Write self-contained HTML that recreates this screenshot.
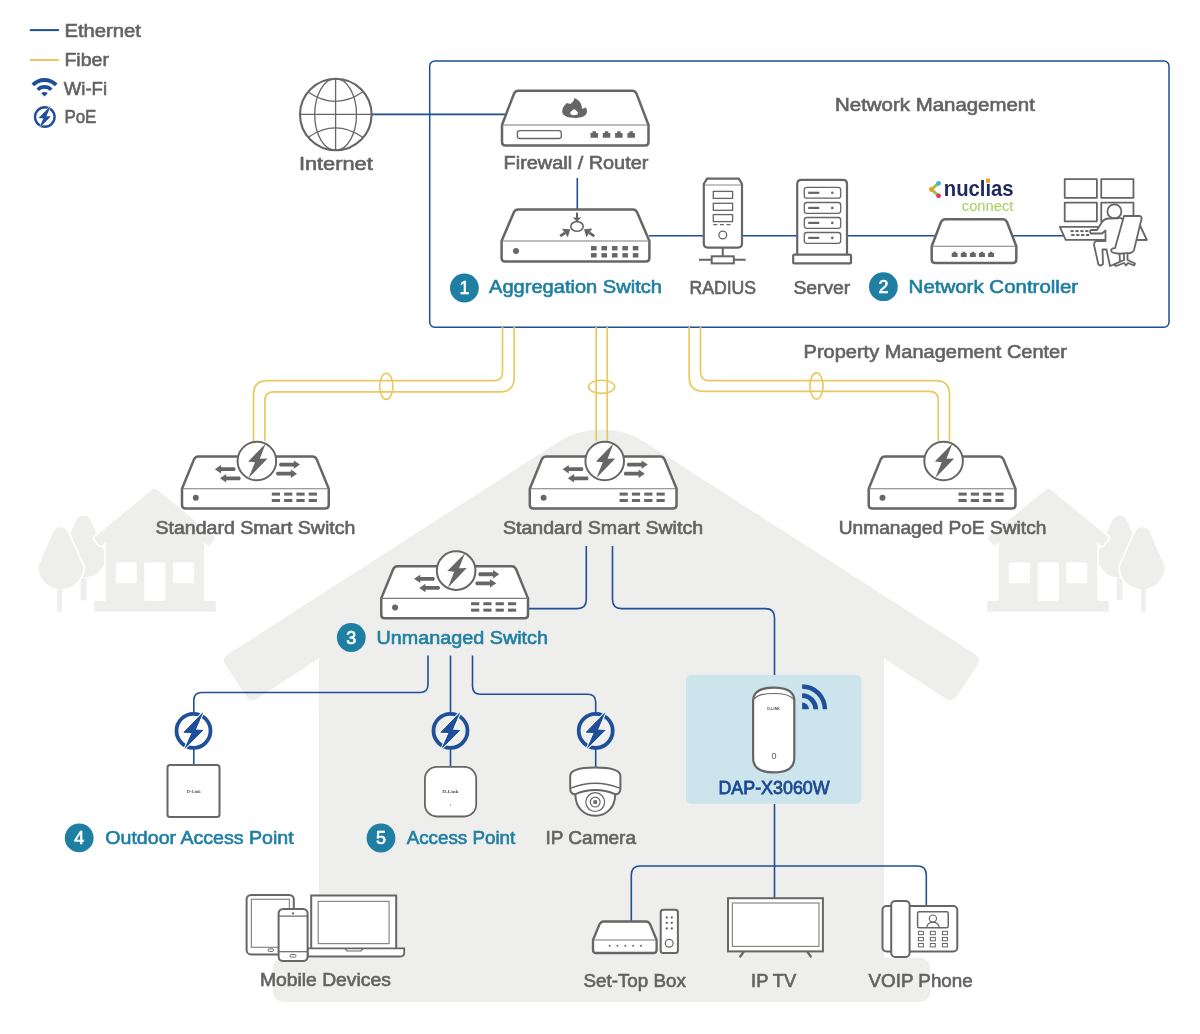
<!DOCTYPE html>
<html><head><meta charset="utf-8"><title>Network Diagram</title>
<style>html,body{margin:0;padding:0;background:#fff;width:1200px;height:1034px;overflow:hidden}
svg{display:block;font-family:"Liberation Sans",sans-serif;will-change:transform}</style></head>
<body><svg width="1200" height="1034" viewBox="0 0 1200 1034">
<path d="M225.65,665.35 Q221.20,658.70 227.93,654.37 L557.51,442.39 A81,81 0 0 1 645.49,442.39 L975.07,654.37 Q981.80,658.70 977.35,665.35 L956.65,696.25 Q952.20,702.90 945.50,698.52 L884.01,658.31 Q884.00,658.30 884.00,658.31 L884.00,959.99 Q884.00,960.00 883.99,960.00 L319.01,960.00 Q319.00,960.00 319.00,959.99 L319.00,658.31 Q319.00,658.30 318.99,658.31 L257.50,698.52 Q250.80,702.90 246.35,696.25 Z" fill="#eeeeec"/>
<rect x="273" y="957.7" width="657.2" height="44.2" rx="10" fill="#eeeeec"/>
<g>
<g transform="translate(22.8,-11.7)"><path d="M53.2,532 A8,8 0 0 1 67.8,532 L83.3,566.7 A22.5,22.5 0 0 1 38.3,566.7 Z" fill="#eeeeec"/><rect x="57.8" y="590" width="5.8" height="22" fill="#eeeeec"/></g>
<path d="M53.2,532 A8,8 0 0 1 67.8,532 L83.3,566.7 A22.5,22.5 0 0 1 38.3,566.7 Z" fill="#eeeeec" stroke="#fff" stroke-width="3.5" paint-order="stroke"/>
<rect x="57.2" y="588" width="4.8" height="23.7" fill="#eeeeec"/>
<path d="M95.16,539.75 Q93.60,537.80 95.53,536.21 L151.61,490.14 Q154.70,487.60 157.79,490.14 L213.87,536.21 Q215.80,537.80 214.24,539.75 L210.15,544.84 Q208.90,546.40 207.34,545.14 L204.21,542.61 Q204.20,542.60 204.20,542.61 L204.20,600.99 Q204.20,601.00 204.19,601.00 L105.81,601.00 Q105.80,601.00 105.80,600.99 L105.80,542.61 Q105.80,542.60 105.79,542.61 L102.13,545.23 Q100.50,546.40 99.25,544.84 Z" fill="#eeeeec" stroke="#fff" stroke-width="3.5" paint-order="stroke" stroke-linejoin="round"/>
<rect x="94.2" y="600.8" width="121.6" height="10.9" rx="1.5" fill="#eeeeec"/>
<rect x="115.8" y="562.5" width="20.9" height="20.8" rx="1.2" fill="#fff"/>
<rect x="144.2" y="562.5" width="21.1" height="38.3" rx="1.2" fill="#fff"/>
<rect x="173" y="562.5" width="21.2" height="20.8" rx="1.2" fill="#fff"/>
</g>
<g transform="translate(1203,0) scale(-1,1)">
<g transform="translate(22.8,-11.7)"><path d="M53.2,532 A8,8 0 0 1 67.8,532 L83.3,566.7 A22.5,22.5 0 0 1 38.3,566.7 Z" fill="#eeeeec"/><rect x="57.8" y="590" width="5.8" height="22" fill="#eeeeec"/></g>
<path d="M53.2,532 A8,8 0 0 1 67.8,532 L83.3,566.7 A22.5,22.5 0 0 1 38.3,566.7 Z" fill="#eeeeec" stroke="#fff" stroke-width="3.5" paint-order="stroke"/>
<rect x="57.2" y="588" width="4.8" height="23.7" fill="#eeeeec"/>
<path d="M95.16,539.75 Q93.60,537.80 95.53,536.21 L151.61,490.14 Q154.70,487.60 157.79,490.14 L213.87,536.21 Q215.80,537.80 214.24,539.75 L210.15,544.84 Q208.90,546.40 207.34,545.14 L204.21,542.61 Q204.20,542.60 204.20,542.61 L204.20,600.99 Q204.20,601.00 204.19,601.00 L105.81,601.00 Q105.80,601.00 105.80,600.99 L105.80,542.61 Q105.80,542.60 105.79,542.61 L102.13,545.23 Q100.50,546.40 99.25,544.84 Z" fill="#eeeeec" stroke="#fff" stroke-width="3.5" paint-order="stroke" stroke-linejoin="round"/>
<rect x="94.2" y="600.8" width="121.6" height="10.9" rx="1.5" fill="#eeeeec"/>
<rect x="115.8" y="562.5" width="20.9" height="20.8" rx="1.2" fill="#fff"/>
<rect x="144.2" y="562.5" width="21.1" height="38.3" rx="1.2" fill="#fff"/>
<rect x="173" y="562.5" width="21.2" height="20.8" rx="1.2" fill="#fff"/>
</g>
<rect x="686" y="675" width="175.3" height="128.8" rx="5" fill="#cce4ec"/>
<line x1="29.8" y1="30.1" x2="59" y2="30.1" stroke="#1f4f94" stroke-width="2"/>
<line x1="29.8" y1="60" x2="59" y2="60" stroke="#e9c85e" stroke-width="2"/>
<text x="64.4" y="37.0" font-size="18" font-weight="400" fill="#636363" stroke="#636363" stroke-width="0.6" textLength="76.5" lengthAdjust="spacingAndGlyphs" >Ethernet</text>
<text x="64.4" y="66.0" font-size="18" font-weight="400" fill="#636363" stroke="#636363" stroke-width="0.6" textLength="44.5" lengthAdjust="spacingAndGlyphs" >Fiber</text>
<text x="63.8" y="95.0" font-size="18" font-weight="400" fill="#636363" stroke="#636363" stroke-width="0.6" textLength="43.3" lengthAdjust="spacingAndGlyphs" >Wi-Fi</text>
<text x="64.4" y="122.6" font-size="18" font-weight="400" fill="#636363" stroke="#636363" stroke-width="0.6" textLength="32.0" lengthAdjust="spacingAndGlyphs" >PoE</text>
<g transform="translate(44.5,96.5) rotate(0)" fill="#1e4f98">
<path d="M0,0 L-3.25,-3.25 A4.6,4.6 0 0 1 3.25,-3.25 Z"/>
<path d="M-8.06,-8.06 A11.4,11.4 0 0 1 8.06,-8.06 L5.52,-5.52 A7.8,7.8 0 0 0 -5.52,-5.52 Z"/>
<path d="M-13.01,-13.01 A18.4,18.4 0 0 1 13.01,-13.01 L10.32,-10.32 A14.6,14.6 0 0 0 -10.32,-10.32 Z"/>
</g>
<circle cx="44.8" cy="117" r="9.80" fill="none" stroke="#1e4f98" stroke-width="2.40"/>
<path d="M50.43,106.17 L38.92,117.99 L43.69,118.28 L39.62,127.42 L50.56,116.59 L46.08,116.44 Z" fill="#1e4f98" stroke="#fff" stroke-width="1.28" paint-order="stroke" stroke-linejoin="miter"/>
<path d="M50.43,106.17 L38.92,117.99 L43.69,118.28 L39.62,127.42 L50.56,116.59 L46.08,116.44 Z" fill="#1e4f98"/>
<rect x="429.7" y="61" width="739.3" height="266.3" rx="5" fill="none" stroke="#1f4f94" stroke-width="1.5"/>
<text x="835.1" y="110.8" font-size="17.5" font-weight="400" fill="#636363" stroke="#636363" stroke-width="0.6" textLength="199.8" lengthAdjust="spacingAndGlyphs" >Network Management</text>
<text x="803.6" y="357.5" font-size="17.5" font-weight="400" fill="#636363" stroke="#636363" stroke-width="0.6" textLength="263.3" lengthAdjust="spacingAndGlyphs" >Property Management Center</text>
<g fill="none" stroke="#1f4f94" stroke-width="1.6">
<line x1="372" y1="114.4" x2="505" y2="114.4"/>
<line x1="577.3" y1="178" x2="577.3" y2="210"/>
<line x1="649" y1="235.7" x2="1063" y2="235.7"/>
</g>
<g>
<path d="M253.5,441 L253.50,394.60 Q253.5,380.6 267.50,380.60 L494.50,380.60 Q502.5,380.6 502.50,372.60 L502.5,327" fill="none" stroke="#e9c85e" stroke-width="1.7"/>
<path d="M264.9,441 L264.90,400.80 Q264.9,391.8 273.90,391.80 L500.20,391.80 Q514.2,391.8 514.20,377.80 L514.2,327" fill="none" stroke="#e9c85e" stroke-width="1.7"/>
<ellipse cx="386.3" cy="386.3" rx="6.6" ry="13.1" fill="none" stroke="#e9c85e" stroke-width="1.6"/>
<line x1="596.2" y1="327" x2="596.2" y2="441" stroke="#e9c85e" stroke-width="1.7"/>
<line x1="607.2" y1="327" x2="607.2" y2="441" stroke="#e9c85e" stroke-width="1.7"/>
<ellipse cx="601.6" cy="386.8" rx="13.1" ry="6.6" fill="none" stroke="#e9c85e" stroke-width="1.6"/>
<path d="M689.2,327 L689.20,377.30 Q689.2,391.3 703.20,391.30 L929.30,391.30 Q938.3,391.3 938.30,400.30 L938.3,441" fill="none" stroke="#e9c85e" stroke-width="1.7"/>
<path d="M700.5,327 L700.50,371.70 Q700.5,380.7 709.50,380.70 L935.50,380.70 Q949.5,380.7 949.50,394.70 L949.5,441" fill="none" stroke="#e9c85e" stroke-width="1.7"/>
<ellipse cx="816.5" cy="386" rx="6.6" ry="13.1" fill="none" stroke="#e9c85e" stroke-width="1.6"/>
</g>
<path d="M586.3,546 L586.30,599.60 Q586.3,608.6 577.30,608.60 L528,608.6" fill="none" stroke="#1f4f94" stroke-width="1.6"/>
<path d="M612.5,546 L612.50,599.60 Q612.5,608.6 621.50,608.60 L765.50,608.60 Q774.5,608.6 774.50,617.60 L774.5,675" fill="none" stroke="#1f4f94" stroke-width="1.6"/>
<path d="M774.5,804 L774.5,898" fill="none" stroke="#1f4f94" stroke-width="1.6"/>
<path d="M631.3,921 L631.30,875.00 Q631.3,866 640.30,866.00 L917.30,866.00 Q926.3,866 926.30,875.00 L926.3,905" fill="none" stroke="#1f4f94" stroke-width="1.6"/>
<path d="M428,655.5 L428.00,684.50 Q428,692.5 420.00,692.50 L201.80,692.50 Q193.8,692.5 193.80,700.50 L193.8,712" fill="none" stroke="#1f4f94" stroke-width="1.6"/>
<path d="M450.5,655.5 L450.5,712" fill="none" stroke="#1f4f94" stroke-width="1.6"/>
<path d="M472.5,655.5 L472.50,686.30 Q472.5,694.3 480.50,694.30 L587.70,694.30 Q595.7,694.3 595.70,702.30 L595.7,712" fill="none" stroke="#1f4f94" stroke-width="1.6"/>
<path d="M193.8,749 L193.8,765" fill="none" stroke="#1f4f94" stroke-width="1.6"/>
<path d="M450.5,749 L450.5,766" fill="none" stroke="#1f4f94" stroke-width="1.6"/>
<path d="M595.7,749 L595.7,768" fill="none" stroke="#1f4f94" stroke-width="1.6"/>
<path d="M182,488.7 L194.00,459.40 Q195.60,456.6 198.20,456.6 L312.55,456.6 Q315.15,456.6 316.75,459.40 L328.75,488.7 L328.75,505.0 Q328.75,508.5 325.25,508.5 L185.5,508.5 Q182,508.5 182,505.0 Z" fill="#fff" stroke="#666666" stroke-width="2.5" stroke-linejoin="round"/>
<line x1="182" y1="488.7" x2="328.75" y2="488.7" stroke="#7d7b7b" stroke-width="1.1"/>
<circle cx="195.80" cy="497.80" r="3" fill="#666666"/>
<rect x="271.80" y="492.60" width="8.2" height="3" fill="#666666"/>
<rect x="271.80" y="499.00" width="8.2" height="3" fill="#666666"/>
<rect x="284.10" y="492.60" width="8.2" height="3" fill="#666666"/>
<rect x="284.10" y="499.00" width="8.2" height="3" fill="#666666"/>
<rect x="296.40" y="492.60" width="8.2" height="3" fill="#666666"/>
<rect x="296.40" y="499.00" width="8.2" height="3" fill="#666666"/>
<rect x="308.70" y="492.60" width="8.2" height="3" fill="#666666"/>
<rect x="308.70" y="499.00" width="8.2" height="3" fill="#666666"/>
<path d="M214.8,469.2 L221.0,465.0 L221.0,467.3 L234.6,467.3 Q236.5,469.2 234.6,471.09999999999997 L221.0,471.09999999999997 L221.0,473.4 Z" fill="#666666"/>
<path d="M220,478.3 L226.2,474.1 L226.2,476.40000000000003 L239.8,476.40000000000003 Q241.70000000000002,478.3 239.8,480.2 L226.2,480.2 L226.2,482.5 Z" fill="#666666"/>
<path d="M300,464.6 L293.8,460.40000000000003 L293.8,462.70000000000005 L280,462.70000000000005 Q278.1,464.6 280,466.5 L293.8,466.5 L293.8,468.8 Z" fill="#666666"/>
<path d="M297,473.7 L290.8,469.5 L290.8,471.8 L277,471.8 Q275.1,473.7 277,475.59999999999997 L290.8,475.59999999999997 L290.8,477.9 Z" fill="#666666"/>
<circle cx="256.9" cy="461.0" r="19.3" fill="#fff" stroke="#666666" stroke-width="2"/>
<path d="M265.70,443.60 L248.10,461.40 L255.00,462.20 L248.60,478.10 L267.50,458.45 L259.80,458.70 Z" fill="#666666"/>
<path d="M529.8,488.7 L541.80,459.40 Q543.40,456.6 546.00,456.6 L660.35,456.6 Q662.95,456.6 664.55,459.40 L676.55,488.7 L676.55,505.0 Q676.55,508.5 673.05,508.5 L533.3,508.5 Q529.8,508.5 529.8,505.0 Z" fill="#fff" stroke="#666666" stroke-width="2.5" stroke-linejoin="round"/>
<line x1="529.8" y1="488.7" x2="676.55" y2="488.7" stroke="#7d7b7b" stroke-width="1.1"/>
<circle cx="543.60" cy="497.80" r="3" fill="#666666"/>
<rect x="619.60" y="492.60" width="8.2" height="3" fill="#666666"/>
<rect x="619.60" y="499.00" width="8.2" height="3" fill="#666666"/>
<rect x="631.90" y="492.60" width="8.2" height="3" fill="#666666"/>
<rect x="631.90" y="499.00" width="8.2" height="3" fill="#666666"/>
<rect x="644.20" y="492.60" width="8.2" height="3" fill="#666666"/>
<rect x="644.20" y="499.00" width="8.2" height="3" fill="#666666"/>
<rect x="656.50" y="492.60" width="8.2" height="3" fill="#666666"/>
<rect x="656.50" y="499.00" width="8.2" height="3" fill="#666666"/>
<path d="M562.5999999999999,469.2 L568.8,465.0 L568.8,467.3 L582.4,467.3 Q584.3,469.2 582.4,471.09999999999997 L568.8,471.09999999999997 L568.8,473.4 Z" fill="#666666"/>
<path d="M567.8,478.3 L574.0,474.1 L574.0,476.40000000000003 L587.5999999999999,476.40000000000003 Q589.4999999999999,478.3 587.5999999999999,480.2 L574.0,480.2 L574.0,482.5 Z" fill="#666666"/>
<path d="M647.8,464.6 L641.5999999999999,460.40000000000003 L641.5999999999999,462.70000000000005 L627.8,462.70000000000005 Q625.9,464.6 627.8,466.5 L641.5999999999999,466.5 L641.5999999999999,468.8 Z" fill="#666666"/>
<path d="M644.8,473.7 L638.5999999999999,469.5 L638.5999999999999,471.8 L624.8,471.8 Q622.9,473.7 624.8,475.59999999999997 L638.5999999999999,475.59999999999997 L638.5999999999999,477.9 Z" fill="#666666"/>
<circle cx="604.6999999999999" cy="461.0" r="19.3" fill="#fff" stroke="#666666" stroke-width="2"/>
<path d="M613.50,443.60 L595.90,461.40 L602.80,462.20 L596.40,478.10 L615.30,458.45 L607.60,458.70 Z" fill="#666666"/>
<path d="M868.7,488.7 L880.70,459.40 Q882.30,456.6 884.90,456.6 L999.25,456.6 Q1001.85,456.6 1003.45,459.40 L1015.45,488.7 L1015.45,505.0 Q1015.45,508.5 1011.95,508.5 L872.2,508.5 Q868.7,508.5 868.7,505.0 Z" fill="#fff" stroke="#666666" stroke-width="2.5" stroke-linejoin="round"/>
<line x1="868.7" y1="488.7" x2="1015.45" y2="488.7" stroke="#7d7b7b" stroke-width="1.1"/>
<circle cx="882.50" cy="497.80" r="3" fill="#666666"/>
<rect x="958.50" y="492.60" width="8.2" height="3" fill="#666666"/>
<rect x="958.50" y="499.00" width="8.2" height="3" fill="#666666"/>
<rect x="970.80" y="492.60" width="8.2" height="3" fill="#666666"/>
<rect x="970.80" y="499.00" width="8.2" height="3" fill="#666666"/>
<rect x="983.10" y="492.60" width="8.2" height="3" fill="#666666"/>
<rect x="983.10" y="499.00" width="8.2" height="3" fill="#666666"/>
<rect x="995.40" y="492.60" width="8.2" height="3" fill="#666666"/>
<rect x="995.40" y="499.00" width="8.2" height="3" fill="#666666"/>
<circle cx="943.6" cy="461.0" r="19.3" fill="#fff" stroke="#666666" stroke-width="2"/>
<path d="M952.40,443.60 L934.80,461.40 L941.70,462.20 L935.30,478.10 L954.20,458.45 L946.50,458.70 Z" fill="#666666"/>
<path d="M381.25,598.3499999999999 L393.25,569.05 Q394.85,566.25 397.45,566.25 L511.80,566.25 Q514.40,566.25 516.00,569.05 L528.0,598.3499999999999 L528.0,614.65 Q528.0,618.15 524.5,618.15 L384.75,618.15 Q381.25,618.15 381.25,614.65 Z" fill="#fff" stroke="#666666" stroke-width="2.5" stroke-linejoin="round"/>
<line x1="381.25" y1="598.3499999999999" x2="528.0" y2="598.3499999999999" stroke="#7d7b7b" stroke-width="1.1"/>
<circle cx="395.05" cy="607.45" r="3" fill="#666666"/>
<rect x="471.05" y="602.25" width="8.2" height="3" fill="#666666"/>
<rect x="471.05" y="608.65" width="8.2" height="3" fill="#666666"/>
<rect x="483.35" y="602.25" width="8.2" height="3" fill="#666666"/>
<rect x="483.35" y="608.65" width="8.2" height="3" fill="#666666"/>
<rect x="495.65" y="602.25" width="8.2" height="3" fill="#666666"/>
<rect x="495.65" y="608.65" width="8.2" height="3" fill="#666666"/>
<rect x="507.95" y="602.25" width="8.2" height="3" fill="#666666"/>
<rect x="507.95" y="608.65" width="8.2" height="3" fill="#666666"/>
<path d="M414.05,578.8499999999999 L420.25,574.6499999999999 L420.25,576.9499999999999 L433.85,576.9499999999999 Q435.75,578.8499999999999 433.85,580.7499999999999 L420.25,580.7499999999999 L420.25,583.05 Z" fill="#666666"/>
<path d="M419.25,587.95 L425.45,583.75 L425.45,586.0500000000001 L439.05,586.0500000000001 Q440.95,587.95 439.05,589.85 L425.45,589.85 L425.45,592.1500000000001 Z" fill="#666666"/>
<path d="M499.25,574.25 L493.05,570.05 L493.05,572.35 L479.25,572.35 Q477.35,574.25 479.25,576.15 L493.05,576.15 L493.05,578.45 Z" fill="#666666"/>
<path d="M496.25,583.3499999999999 L490.05,579.1499999999999 L490.05,581.4499999999999 L476.25,581.4499999999999 Q474.35,583.3499999999999 476.25,585.2499999999999 L490.05,585.2499999999999 L490.05,587.55 Z" fill="#666666"/>
<circle cx="456.15" cy="570.65" r="19.3" fill="#fff" stroke="#666666" stroke-width="2"/>
<path d="M464.95,553.25 L447.35,571.05 L454.25,571.85 L447.85,587.75 L466.75,568.10 L459.05,568.35 Z" fill="#666666"/>
<text x="155.5" y="533.6" font-size="17.5" font-weight="400" fill="#636363" stroke="#636363" stroke-width="0.6" textLength="199.8" lengthAdjust="spacingAndGlyphs" >Standard Smart Switch</text>
<text x="502.9" y="533.6" font-size="17.5" font-weight="400" fill="#636363" stroke="#636363" stroke-width="0.6" textLength="200.2" lengthAdjust="spacingAndGlyphs" >Standard Smart Switch</text>
<text x="838.7" y="533.6" font-size="17.5" font-weight="400" fill="#636363" stroke="#636363" stroke-width="0.6" textLength="207.7" lengthAdjust="spacingAndGlyphs" >Unmanaged PoE Switch</text>
<circle cx="351.25" cy="637.5" r="14.4" fill="#1f7fa2"/>
<text x="351.25" y="643.7" font-size="18" font-weight="400" fill="#fff" stroke="#fff" stroke-width="0.6" text-anchor="middle">3</text>
<text x="376.6" y="643.8" font-size="17.5" font-weight="400" fill="#1f7fa2" stroke="#1f7fa2" stroke-width="0.6" textLength="171.3" lengthAdjust="spacingAndGlyphs" >Unmanaged Switch</text>
<g fill="none" stroke="#666666">
<circle cx="335.8" cy="114.5" r="35.8" stroke-width="2.1"/>
<ellipse cx="335.6" cy="114.5" rx="20.9" ry="35.8" stroke-width="1.3"/>
<line x1="335.6" y1="78.7" x2="335.6" y2="150.3" stroke-width="1.3"/>
<line x1="300" y1="114.4" x2="371.6" y2="114.4" stroke-width="1.3"/>
<path d="M308.5,92.2 Q335.6,110.5 362.6,92" stroke-width="1.3"/>
<path d="M308.7,137 Q335.6,118.5 362.6,137.3" stroke-width="1.3"/>
</g>
<text x="298.9" y="170.0" font-size="17.5" font-weight="400" fill="#636363" stroke="#636363" stroke-width="0.6" textLength="73.9" lengthAdjust="spacingAndGlyphs" >Internet</text>
<path d="M502,125 L514.00,93.60 Q515.60,90.8 518.20,90.8 L632.30,90.8 Q634.90,90.8 636.50,93.60 L648.5,125 L648.5,142.0 Q648.5,145.5 645.0,145.5 L505.5,145.5 Q502,145.5 502,142.0 Z" fill="#fff" stroke="#666666" stroke-width="2.5" stroke-linejoin="round"/>
<line x1="502" y1="125" x2="648.5" y2="125" stroke="#7d7b7b" stroke-width="1.1"/>
<rect x="517.4" y="130.7" width="43.9" height="7.8" rx="2.5" fill="none" stroke="#666666" stroke-width="1.3"/>
<path d="M590.5,137.8 L590.5,133 L592.5,133 L592.5,131.2 L596.0,131.2 L596.0,133 L598.0,133 L598.0,137.8 Z" fill="#666666"/>
<path d="M602.8,137.8 L602.8,133 L604.8,133 L604.8,131.2 L608.3,131.2 L608.3,133 L610.3,133 L610.3,137.8 Z" fill="#666666"/>
<path d="M615.1,137.8 L615.1,133 L617.1,133 L617.1,131.2 L620.6,131.2 L620.6,133 L622.6,133 L622.6,137.8 Z" fill="#666666"/>
<path d="M627.4,137.8 L627.4,133 L629.4,133 L629.4,131.2 L632.9,131.2 L632.9,133 L634.9,133 L634.9,137.8 Z" fill="#666666"/>
<path d="M574.5,98 C578,99.5 582,102.5 582,108.8 C583.5,108.5 585,107.8 585.8,107.2 C587.5,109.5 587.5,113 585.5,115 C583,117.5 578,118 574.7,117.9 C570,117.8 565,117 563,114 C561.5,111.5 562,107.5 566.7,103 C568,103.2 569.5,103.7 570.3,104 C572.5,102.5 574,100.5 574.5,98 Z" fill="#666666"/>
<path d="M574.3,109 C575.5,110.3 578,111.5 578,113.3 C578,115 575.5,115.2 574,115.2 C572,115.2 570.2,114.5 570.2,113 C570.2,111.5 572.5,110.3 574.3,109 Z" fill="#fff"/>
<text x="503.6" y="169.2" font-size="17.5" font-weight="400" fill="#636363" stroke="#636363" stroke-width="0.6" textLength="144.8" lengthAdjust="spacingAndGlyphs" >Firewall / Router</text>
<path d="M501.6,241 L513.80,212.40 Q515.40,209.6 518.00,209.6 L633.00,209.6 Q635.60,209.6 637.20,212.40 L649.4,241 L649.4,258.1 Q649.4,261.6 645.9,261.6 L505.1,261.6 Q501.6,261.6 501.6,258.1 Z" fill="#fff" stroke="#666666" stroke-width="2.5" stroke-linejoin="round"/>
<line x1="501.6" y1="241" x2="649.4" y2="241" stroke="#7d7b7b" stroke-width="1.1"/>
<circle cx="516" cy="251" r="3" fill="#666666"/>
<rect x="591.00" y="246.00" width="5.6" height="4.4" fill="#666666"/>
<rect x="591.00" y="253.10" width="5.6" height="4.4" fill="#666666"/>
<rect x="601.45" y="246.00" width="5.6" height="4.4" fill="#666666"/>
<rect x="601.45" y="253.10" width="5.6" height="4.4" fill="#666666"/>
<rect x="611.90" y="246.00" width="5.6" height="4.4" fill="#666666"/>
<rect x="611.90" y="253.10" width="5.6" height="4.4" fill="#666666"/>
<rect x="622.35" y="246.00" width="5.6" height="4.4" fill="#666666"/>
<rect x="622.35" y="253.10" width="5.6" height="4.4" fill="#666666"/>
<rect x="632.80" y="246.00" width="5.6" height="4.4" fill="#666666"/>
<rect x="632.80" y="253.10" width="5.6" height="4.4" fill="#666666"/>
<ellipse cx="577" cy="226.4" rx="6.2" ry="4.8" fill="#fff" stroke="#666666" stroke-width="1.6"/>
<path d="M577,212.5 L577,218" stroke="#666666" stroke-width="2"/><path d="M573,217.5 L581,217.5 L577,222 Z" fill="#666666"/>
<line x1="560.2" y1="236.2" x2="564.87" y2="232.93" stroke="#666666" stroke-width="2.8"/>
<path d="M570.2,229.2 L567.86,237.19 L561.89,228.67 Z" fill="#666666"/>
<line x1="594.3" y1="236.2" x2="589.38" y2="232.85" stroke="#666666" stroke-width="2.8"/>
<path d="M584,229.2 L592.30,228.55 L586.45,237.15 Z" fill="#666666"/>
<text x="489.1" y="293.0" font-size="17.5" font-weight="400" fill="#1f7fa2" stroke="#1f7fa2" stroke-width="0.6" textLength="172.8" lengthAdjust="spacingAndGlyphs" >Aggregation Switch</text>
<circle cx="464.4" cy="288" r="14.4" fill="#1f7fa2"/>
<text x="464.4" y="294.2" font-size="18" font-weight="400" fill="#fff" stroke="#fff" stroke-width="0.6" text-anchor="middle">1</text>
<g fill="none" stroke="#666666">
<path d="M703.8,243.6 L703.8,184 L707,178.7 L738.8,178.7 L742,184 L742,243.6 Q742,247.6 738,247.6 L707.8,247.6 Q703.8,247.6 703.8,243.6 Z" fill="#fff" stroke-width="2.2"/>
<line x1="704.5" y1="185" x2="741.2" y2="185" stroke-width="1.2" stroke="#8a8888"/>
<rect x="713.3" y="191.4" width="19.3" height="7" stroke-width="1.3"/>
<rect x="713.3" y="203.3" width="19.3" height="7" stroke-width="1.3"/>
<rect x="713.3" y="214.6" width="19.3" height="7" stroke-width="1.3"/>
<line x1="713.3" y1="224.6" x2="732.6" y2="224.6" stroke-width="1.3" stroke-dasharray="4 2.6"/>
<circle cx="722.8" cy="235" r="3.9" stroke-width="1.3"/>
<line x1="722.8" y1="247.6" x2="722.8" y2="256.3" stroke-width="2"/>
<line x1="699" y1="259.8" x2="745.7" y2="259.8" stroke-width="2"/>
<rect x="711.7" y="256.3" width="22.1" height="7.1" fill="#fff" stroke-width="2"/>
</g>
<text x="689.4" y="293.5" font-size="17.5" font-weight="400" fill="#636363" stroke="#636363" stroke-width="0.6" textLength="66.7" lengthAdjust="spacingAndGlyphs" >RADIUS</text>
<g fill="none" stroke="#666666">
<path d="M797.2,256 L797.2,184 Q797.2,179.8 801.4,179.8 L842.8,179.8 Q847,179.8 847,184 L847,256" fill="#fff" stroke-width="2.2"/>
<rect x="793.2" y="254.7" width="57.8" height="8.7" rx="1" fill="#fff" stroke-width="2.2"/>
<rect x="804.3" y="187.4" width="36.4" height="10.8" rx="2.5" stroke-width="1.3"/>
<line x1="808.2" y1="192.8" x2="819.3" y2="192.8" stroke-width="2.2"/>
<circle cx="832.3" cy="192.8" r="1.3" fill="#666666" stroke="none"/>
<rect x="804.3" y="202.5" width="36.4" height="10.8" rx="2.5" stroke-width="1.3"/>
<line x1="808.2" y1="207.9" x2="819.3" y2="207.9" stroke-width="2.2"/>
<circle cx="832.3" cy="207.9" r="1.3" fill="#666666" stroke="none"/>
<rect x="804.3" y="217.5" width="36.4" height="10.8" rx="2.5" stroke-width="1.3"/>
<line x1="808.2" y1="222.9" x2="819.3" y2="222.9" stroke-width="2.2"/>
<circle cx="832.3" cy="222.9" r="1.3" fill="#666666" stroke="none"/>
<rect x="804.3" y="232.5" width="36.4" height="10.8" rx="2.5" stroke-width="1.3"/>
<line x1="808.2" y1="237.9" x2="819.3" y2="237.9" stroke-width="2.2"/>
<circle cx="832.3" cy="237.9" r="1.3" fill="#666666" stroke="none"/>
</g>
<text x="793.4" y="293.5" font-size="17.5" font-weight="400" fill="#636363" stroke="#636363" stroke-width="0.6" textLength="56.9" lengthAdjust="spacingAndGlyphs" >Server</text>
<path d="M931.7,246.3 L941.00,222.00 Q942.60,219.2 945.20,219.2 L1002.80,219.2 Q1005.40,219.2 1007.00,222.00 L1016.3,246.3 L1016.3,259.5 Q1016.3,263 1012.8,263 L935.2,263 Q931.7,263 931.7,259.5 Z" fill="#fff" stroke="#666666" stroke-width="2.5" stroke-linejoin="round"/>
<line x1="931.7" y1="246.3" x2="1016.3" y2="246.3" stroke="#7d7b7b" stroke-width="1.1"/>
<path d="M951.7,257 L951.7,253 L953.3000000000001,253 L953.3000000000001,251.7 L956.0,251.7 L956.0,253 L957.6,253 L957.6,257 Z" fill="#666666"/>
<path d="M960.8000000000001,257 L960.8000000000001,253 L962.4000000000001,253 L962.4000000000001,251.7 L965.1,251.7 L965.1,253 L966.7,253 L966.7,257 Z" fill="#666666"/>
<path d="M969.9000000000001,257 L969.9000000000001,253 L971.5000000000001,253 L971.5000000000001,251.7 L974.2,251.7 L974.2,253 L975.8000000000001,253 L975.8000000000001,257 Z" fill="#666666"/>
<path d="M979.0,257 L979.0,253 L980.6,253 L980.6,251.7 L983.3,251.7 L983.3,253 L984.9,253 L984.9,257 Z" fill="#666666"/>
<path d="M988.1,257 L988.1,253 L989.7,253 L989.7,251.7 L992.4,251.7 L992.4,253 L994.0,253 L994.0,257 Z" fill="#666666"/>
<circle cx="883.4" cy="286.7" r="14.4" fill="#1f7fa2"/>
<text x="883.4" y="292.9" font-size="18" font-weight="400" fill="#fff" stroke="#fff" stroke-width="0.6" text-anchor="middle">2</text>
<text x="908.6" y="293.4" font-size="17.5" font-weight="400" fill="#1f7fa2" stroke="#1f7fa2" stroke-width="0.6" textLength="169.5" lengthAdjust="spacingAndGlyphs" >Network Controller</text>
<text x="943.8" y="196.3" font-size="22.5" font-weight="700" fill="#1c2a5e" textLength="69.8" lengthAdjust="spacingAndGlyphs">nuclias</text>
<rect x="986" y="178.6" width="4" height="4" fill="#f39c32"/>
<text x="961.8" y="210.9" font-size="14.5" font-weight="400" fill="#a6cf5a" textLength="51.6" lengthAdjust="spacingAndGlyphs">connect</text>
<path d="M938.2,183.5 L931.5,189.5 L938.2,195.5" fill="none" stroke="#8cc63f" stroke-width="3" stroke-linecap="round" stroke-linejoin="round"/>
<circle cx="938.6" cy="183.3" r="2.4" fill="#3ab4e0"/>
<circle cx="931.3" cy="189.5" r="2.4" fill="#f39c32"/>
<circle cx="938.6" cy="195.8" r="2.4" fill="#e1326a"/>
<g fill="#fff" stroke="#666666" stroke-width="1.8" stroke-linejoin="round">
<rect x="1064.7" y="179.1" width="32.2" height="18.7"/>
<rect x="1101.25" y="179.1" width="32.2" height="18.7"/>
<rect x="1064.7" y="202.7" width="32.2" height="18.7"/>
<rect x="1101.25" y="202.7" width="32.2" height="18.7"/>
<path d="M1059.8,226.8 L1123,226.8 L1146.7,239.8 L1065.7,239.8 Z"/>
<path d="M1140.3,226 L1146.75,239.8 L1128,239.8 Z"/>
<circle cx="1114.4" cy="211.4" r="7"/>
<path d="M1108,218.5 Q1104,219 1102,222 L1097,230 L1091,230 Q1089,231.5 1091,233.5 L1102,233.5 L1105.5,230.5 L1105.5,241 L1096,241 Q1094,242 1094,245 L1098.3,264 Q1100,267 1103,264 L1102.5,249.5 L1106.5,249.5 L1110,266 L1120,262 L1119,246 Q1125,244 1126,239 L1124,220 Q1120,217 1118,218.3 Z"/>
<path d="M1124,216 L1140,216 Q1142,217 1141.5,219 L1134,250 Q1133,252.5 1130,253 L1123,253.5 Q1115,254 1112,252 Q1110,250 1112.5,248.5 L1115,248.2 Z"/>
<path d="M1124,254 L1124,260 L1114,264.5 L1116,266 L1124,263 L1126,265.5 L1128,263 L1134,265.5 L1135,263.5 L1127.5,260 L1127.5,254"/>
</g>
<g fill="#666666">
<rect x="1070.50" y="230.1" width="3.2" height="2" transform="skewX(0)"/>
<rect x="1075.40" y="230.1" width="3.2" height="2" transform="skewX(0)"/>
<rect x="1080.30" y="230.1" width="3.2" height="2" transform="skewX(0)"/>
<rect x="1085.20" y="230.1" width="3.2" height="2" transform="skewX(0)"/>
<rect x="1071.30" y="234.0" width="3.2" height="2" transform="skewX(0)"/>
<rect x="1076.20" y="234.0" width="3.2" height="2" transform="skewX(0)"/>
<rect x="1081.10" y="234.0" width="3.2" height="2" transform="skewX(0)"/>
<rect x="1086.00" y="234.0" width="3.2" height="2" transform="skewX(0)"/>
</g>
<circle cx="193.5" cy="730.8" r="17.00" fill="none" stroke="#1e4f98" stroke-width="3.80"/>
<path d="M203.17,712.20 L183.40,732.50 L191.60,733.00 L184.60,748.70 L203.40,730.10 L195.70,729.83 Z" fill="#1e4f98" stroke="#fff" stroke-width="2.20" paint-order="stroke" stroke-linejoin="miter"/>
<path d="M203.17,712.20 L183.40,732.50 L191.60,733.00 L184.60,748.70 L203.40,730.10 L195.70,729.83 Z" fill="#1e4f98"/>
<circle cx="450.5" cy="730.8" r="17.00" fill="none" stroke="#1e4f98" stroke-width="3.80"/>
<path d="M460.17,712.20 L440.40,732.50 L448.60,733.00 L441.60,748.70 L460.40,730.10 L452.70,729.83 Z" fill="#1e4f98" stroke="#fff" stroke-width="2.20" paint-order="stroke" stroke-linejoin="miter"/>
<path d="M460.17,712.20 L440.40,732.50 L448.60,733.00 L441.60,748.70 L460.40,730.10 L452.70,729.83 Z" fill="#1e4f98"/>
<circle cx="595.7" cy="730.8" r="17.00" fill="none" stroke="#1e4f98" stroke-width="3.80"/>
<path d="M605.37,712.20 L585.60,732.50 L593.80,733.00 L586.80,748.70 L605.60,730.10 L597.90,729.83 Z" fill="#1e4f98" stroke="#fff" stroke-width="2.20" paint-order="stroke" stroke-linejoin="miter"/>
<path d="M605.37,712.20 L585.60,732.50 L593.80,733.00 L586.80,748.70 L605.60,730.10 L597.90,729.83 Z" fill="#1e4f98"/>
<rect x="167.5" y="765" width="52" height="52" rx="2.5" fill="#fff" stroke="#666666" stroke-width="2"/>
<text x="193.7" y="792.8" font-size="4.2" font-weight="700" font-family="Liberation Serif" fill="#555" text-anchor="middle" textLength="14" lengthAdjust="spacingAndGlyphs">D-Link</text>
<circle cx="79.2" cy="837.9" r="14.4" fill="#1f7fa2"/>
<text x="79.2" y="844.1" font-size="18" font-weight="400" fill="#fff" stroke="#fff" stroke-width="0.6" text-anchor="middle">4</text>
<text x="105.3" y="843.5" font-size="17.5" font-weight="400" fill="#1f7fa2" stroke="#1f7fa2" stroke-width="0.6" textLength="188.4" lengthAdjust="spacingAndGlyphs" >Outdoor Access Point</text>
<rect x="424.9" y="766.9" width="51.3" height="49.6" rx="12" fill="#fff" stroke="#666666" stroke-width="1.8"/>
<text x="450.5" y="792.9" font-size="4.6" font-weight="700" font-family="Liberation Serif" fill="#555" text-anchor="middle" textLength="16.5" lengthAdjust="spacingAndGlyphs">D-Link</text>
<circle cx="450.5" cy="805" r="0.6" fill="#555"/>
<circle cx="381" cy="838" r="14.4" fill="#1f7fa2"/>
<text x="381" y="844.2" font-size="18" font-weight="400" fill="#fff" stroke="#fff" stroke-width="0.6" text-anchor="middle">5</text>
<text x="406.7" y="843.8" font-size="17.5" font-weight="400" fill="#1f7fa2" stroke="#1f7fa2" stroke-width="0.6" textLength="108.6" lengthAdjust="spacingAndGlyphs" >Access Point</text>
<g fill="#fff" stroke="#666666" stroke-width="2" stroke-linejoin="round">
<path d="M570.2,776 Q570.2,767.5 595.2,767.5 Q620.4,767.5 620.4,776 L620.4,789 Q620.4,793.5 615.5,794.5 L575,794.5 Q570.2,793.5 570.2,789 Z"/>
<path d="M570.9,788.2 Q595.2,778.3 619.7,788.2" fill="none" stroke-width="1.3"/>
<path d="M575.4,794.2 Q595.2,786 615.2,794.2 C615.2,808 606,815.7 595.2,815.7 C584.4,815.7 575.4,808 575.4,794.2 Z"/>
<circle cx="595.2" cy="802.1" r="9.4" stroke-width="1.2"/>
<circle cx="595.2" cy="802.1" r="4.9" stroke-width="1.2"/>
</g>
<rect x="593.4" y="800.3" width="3.6" height="3.6" fill="#666666"/>
<text x="545.4" y="843.8" font-size="17.5" font-weight="400" fill="#636363" stroke="#636363" stroke-width="0.6" textLength="90.6" lengthAdjust="spacingAndGlyphs" >IP Camera</text>
<path d="M753.1,701 Q753.1,687.7 773.7,687.7 Q794.3,687.7 794.3,701 L794.3,758 Q794.3,772.4 773.7,772.4 Q753.1,772.4 753.1,758 Z" fill="#fff" stroke="#666666" stroke-width="2.2"/>
<path d="M754.5,699 Q758,693.5 773.7,693.5 Q789.5,693.5 793,699" fill="none" stroke="#666666" stroke-width="1.2"/>
<text x="773.7" y="709.5" font-size="3.8" font-weight="700" fill="#555" text-anchor="middle">D-LINK</text>
<text x="773.9" y="758.8" font-size="9" font-weight="400" fill="#555" text-anchor="middle">0</text>
<g transform="translate(802.1,709.3) rotate(45)" fill="#1e4f98">
<path d="M0,0 L-4.81,-4.81 A6.8,6.8 0 0 1 4.81,-4.81 Z"/>
<path d="M-11.31,-11.31 A16,16 0 0 1 11.31,-11.31 L7.92,-7.92 A11.2,11.2 0 0 0 -7.92,-7.92 Z"/>
<path d="M-17.75,-17.75 A25.1,25.1 0 0 1 17.75,-17.75 L14.57,-14.57 A20.6,20.6 0 0 0 -14.57,-14.57 Z"/>
</g>
<text x="718.4" y="793.8" font-size="18.5" font-weight="400" fill="#1b4a92" stroke="#1b4a92" stroke-width="0.8" textLength="111.3" lengthAdjust="spacingAndGlyphs" >DAP-X3060W</text>
<g fill="#fff" stroke="#666666" stroke-width="2">
<rect x="246.6" y="895" width="47.2" height="59.4" rx="4.5"/>
<rect x="251.4" y="899.3" width="38" height="48" stroke-width="1.2" stroke="#8a8686"/>
<rect x="268" y="948.8" width="5.6" height="2.6" rx="1.3" stroke-width="1"/>
<path d="M311.2,948.5 L311.2,895.5 L396.2,895.5 L396.2,948.5" stroke-width="2"/>
<rect x="318.2" y="901.4" width="70.9" height="42.2" stroke-width="1.2" stroke="#8a8686"/>
<path d="M307.6,948.4 L404.2,948.4 L404.2,953 Q404.2,956.5 400,956.5 L307.6,956.5 Z" stroke-width="1.8"/>
<path d="M345,948.6 L347,951 L361,951 L363,948.6" fill="none" stroke-width="1.2"/>
<rect x="278.6" y="909" width="29" height="52" rx="4.5"/>
<line x1="279" y1="916.1" x2="307.2" y2="916.1" stroke-width="1.2"/>
<line x1="279" y1="951.7" x2="307.2" y2="951.7" stroke-width="1.2"/>
<rect x="290" y="954.5" width="6" height="2.6" rx="1.3" stroke-width="1"/>
</g>
<circle cx="293" cy="913.4" r="1.1" fill="#666666"/>
<text x="260.0" y="986.4" font-size="17.5" font-weight="400" fill="#636363" stroke="#636363" stroke-width="0.6" textLength="130.8" lengthAdjust="spacingAndGlyphs" >Mobile Devices</text>
<path d="M593,940 L599.50,924.30 Q601.10,921.5 603.70,921.5 L645.90,921.5 Q648.50,921.5 650.10,924.30 L656.6,940 L656.6,950 Q656.6,953 653.6,953 L596,953 Q593,953 593,950 Z" fill="#fff" stroke="#666666" stroke-width="2.3" stroke-linejoin="round"/>
<line x1="593" y1="940" x2="656.6" y2="940" stroke="#7d7b7b" stroke-width="1.1"/>
<circle cx="609.60" cy="945.8" r="1" fill="#666666"/>
<circle cx="617.45" cy="945.8" r="1" fill="#666666"/>
<circle cx="625.30" cy="945.8" r="1" fill="#666666"/>
<circle cx="633.15" cy="945.8" r="1" fill="#666666"/>
<circle cx="641.00" cy="945.8" r="1" fill="#666666"/>
<rect x="660.7" y="909.8" width="17.2" height="43.3" rx="2.5" fill="#fff" stroke="#666666" stroke-width="2"/>
<circle cx="666.8" cy="917.5" r="1.15" fill="#666666"/>
<circle cx="666.8" cy="922.9" r="1.15" fill="#666666"/>
<circle cx="666.8" cy="928.5" r="1.15" fill="#666666"/>
<circle cx="671.8" cy="917.5" r="1.15" fill="#666666"/>
<circle cx="671.8" cy="922.9" r="1.15" fill="#666666"/>
<circle cx="671.8" cy="928.5" r="1.15" fill="#666666"/>
<circle cx="669.2" cy="943.3" r="3.9" fill="none" stroke="#666666" stroke-width="1.2"/>
<text x="583.5" y="986.5" font-size="17.5" font-weight="400" fill="#636363" stroke="#636363" stroke-width="0.6" textLength="102.4" lengthAdjust="spacingAndGlyphs" >Set-Top Box</text>
<rect x="728" y="898.2" width="94.9" height="53.2" fill="#fff" stroke="#666666" stroke-width="2"/>
<rect x="732.4" y="903" width="86.6" height="43.4" fill="none" stroke="#8a8686" stroke-width="1.2"/>
<path d="M743.5,952 L740.3,956.5 M807.5,952 L810.7,956.5" stroke="#666666" stroke-width="2.2" stroke-linecap="round"/>
<text x="751.1" y="987.0" font-size="17.5" font-weight="400" fill="#636363" stroke="#636363" stroke-width="0.6" textLength="45.0" lengthAdjust="spacingAndGlyphs" >IP TV</text>
<g fill="#fff" stroke="#666666" stroke-width="2" transform="translate(0,0.7)">
<rect x="882.5" y="905.3" width="74.8" height="45.5" rx="4"/>
<rect x="891.2" y="900.3" width="18.4" height="55.9" rx="4"/>
<rect x="917.6" y="911.1" width="30.6" height="15.9" rx="1.5" stroke-width="1.5"/>
<circle cx="932.9" cy="917.9" r="3.6" stroke-width="1.2"/>
<path d="M926.6,926.6 Q928,921.5 932.9,921.5 Q937.8,921.5 939.3,926.6" fill="none" stroke-width="1.2"/>
<rect x="918.4" y="930.6" width="5" height="3.4" stroke-width="1"/>
<rect x="918.4" y="936.7" width="5" height="3.4" stroke-width="1"/>
<rect x="918.4" y="942.8" width="5" height="3.4" stroke-width="1"/>
<rect x="930.3" y="930.6" width="5" height="3.4" stroke-width="1"/>
<rect x="930.3" y="936.7" width="5" height="3.4" stroke-width="1"/>
<rect x="930.3" y="942.8" width="5" height="3.4" stroke-width="1"/>
<rect x="942.4" y="930.6" width="5" height="3.4" stroke-width="1"/>
<rect x="942.4" y="936.7" width="5" height="3.4" stroke-width="1"/>
<rect x="942.4" y="942.8" width="5" height="3.4" stroke-width="1"/>
</g>
<text x="868.6" y="987.0" font-size="17.5" font-weight="400" fill="#636363" stroke="#636363" stroke-width="0.6" textLength="104.1" lengthAdjust="spacingAndGlyphs" >VOIP Phone</text>
</svg></body></html>
